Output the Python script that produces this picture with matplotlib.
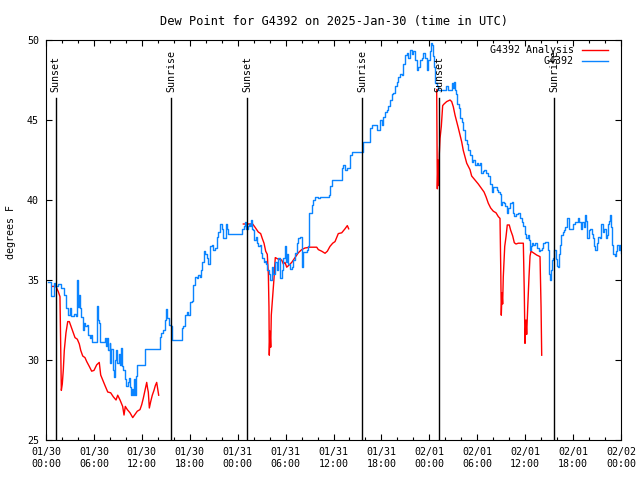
import matplotlib
matplotlib.use('Agg')
import matplotlib.pyplot as plt
import numpy as np
from matplotlib.ticker import MultipleLocator

# hours since 01/30 00:00 UTC
obs_hours = [
    0.25, 0.59, 1.0, 1.16, 1.5, 1.92, 2.25, 2.54, 2.75, 2.97, 3.17, 3.51, 3.72, 3.88, 4.0, 4.13,
    4.26, 4.42, 4.6, 4.76, 4.92, 5.1, 5.26, 5.47, 5.63, 5.8, 6.3, 6.42, 6.51, 6.64, 6.76, 7.14,
    7.35, 7.48, 7.64, 7.76, 7.98, 8.05, 8.18, 8.39, 8.51, 8.68, 8.8, 8.93, 9.1, 9.23, 9.35, 9.52,
    9.68, 9.93, 10.06, 10.27, 10.39, 10.56, 10.68, 10.81, 10.9, 11.02, 11.18, 11.31, 11.43, 12.36,
    12.43, 14.11, 14.24, 14.44, 14.65, 14.86, 15.06, 15.19, 15.36, 15.65, 15.74, 16.78, 16.99,
    17.19, 17.41, 17.62, 17.82, 18.03, 18.24, 18.44, 18.66, 18.87, 19.07, 19.28, 19.41, 19.57,
    19.75, 19.91, 20.12, 20.25, 20.54, 20.75, 20.95, 21.16, 21.38, 21.58, 21.79, 22.0, 22.2,
    22.33, 22.5, 22.66, 22.83, 24.29, 24.58, 24.83, 24.92, 25.04, 25.26, 25.42, 25.55, 25.67,
    25.83, 25.96, 26.08, 26.26, 26.42, 26.58, 26.8, 26.92, 27.09, 27.26, 27.42, 27.55, 27.71,
    27.92, 28.09, 28.26, 28.46, 28.68, 28.89, 29.09, 29.3, 29.51, 29.72, 29.93, 30.06, 30.22,
    30.34, 30.55, 30.77, 30.97, 31.18, 31.39, 31.59, 31.81, 32.02, 32.22, 32.64, 32.85, 32.97,
    33.06, 33.27, 33.47, 33.68, 33.9, 34.1, 34.31, 35.47, 35.56, 35.78, 36.9, 37.03, 37.23,
    37.44, 37.73, 38.07, 38.28, 39.53, 39.66, 40.36, 40.57, 40.78, 41.2, 41.41, 41.61, 41.82,
    42.03, 42.24, 42.45, 42.66, 42.86, 43.08, 43.29, 43.49, 43.7, 43.91, 44.12, 44.33, 44.54,
    44.74, 44.95, 45.17, 45.37, 45.58, 45.79, 45.99, 46.21, 46.42, 46.62, 46.83, 47.04, 47.25,
    47.46, 47.67, 47.87, 48.08, 48.17, 48.3, 48.5, 48.62, 48.75, 48.92, 49.12, 49.34, 49.75,
    50.09, 50.34, 50.59, 50.8, 51.0, 51.1, 51.25, 51.34, 51.5, 51.68, 51.84, 52.05, 52.25,
    52.47, 52.68, 52.88, 53.09, 53.3, 53.5, 53.72, 53.93, 54.13, 54.34, 54.47, 54.68, 54.85,
    55.1, 55.38, 55.6, 55.81, 56.01, 56.22, 56.44, 56.64, 56.85, 56.94, 57.14, 57.35, 57.51,
    57.69, 57.89, 58.1, 58.31, 58.44, 58.64, 58.85, 59.14, 59.35, 59.57, 59.77, 59.98, 60.1,
    60.32, 60.48, 60.61, 60.73, 60.86, 61.02, 61.23, 61.44, 61.69, 61.86, 62.07, 62.27, 62.49,
    62.7, 62.82, 62.95, 63.02, 63.11, 63.24, 63.36, 63.52, 63.65, 63.81, 63.95, 64.07, 64.2,
    64.36, 64.45, 64.7, 64.86, 64.99, 65.2, 65.32, 65.49, 65.83, 66.03, 66.24, 66.45, 66.58,
    66.74, 66.95, 67.16, 67.33, 67.5, 67.62, 67.79, 67.96, 68.12, 68.33, 68.54, 68.66, 68.79,
    68.96, 69.16, 69.37, 69.5, 69.71, 69.87, 70.09, 70.25, 70.41, 70.54, 70.62, 70.75, 70.87,
    71.04, 71.21, 71.38, 71.54, 71.71, 71.87, 72.0,
]
obs_dewpt = [
    34.9, 34.0, 34.8, 34.6, 34.75, 34.5, 34.06, 33.25, 32.8, 33.25, 32.75, 32.9, 32.75, 35.0, 33.3, 34.06,
    33.25, 32.7, 31.9, 32.3, 32.1, 32.2, 31.56, 31.4, 31.56, 31.15, 31.15, 33.4, 32.5, 32.3, 31.15, 31.15,
    31.4, 30.9, 31.4, 30.6, 31.06, 29.8, 30.7, 29.4, 28.96, 30.0, 30.6, 29.8, 30.4, 29.7, 30.75, 29.6,
    29.4, 28.8, 28.4, 28.6, 28.9, 28.3, 27.8, 28.2, 27.8, 28.8, 27.8, 29.0, 29.67, 29.67,
    30.7, 30.7, 31.44, 31.7, 31.9, 32.5, 33.2, 32.6, 32.2, 32.1, 31.25, 31.25, 32.0,
    32.1, 32.8, 33.0, 32.8, 33.65, 33.7, 34.7, 35.2, 35.1, 35.3, 35.2, 35.6, 36.1,
    36.8, 36.6, 36.4, 36.0, 37.1, 37.2, 36.9, 37.0, 37.7, 38.0, 38.5, 38.2, 37.6,
    37.6, 38.5, 38.2, 37.9, 37.9, 38.2, 38.4, 38.65, 38.2, 38.4, 38.5, 38.4, 38.75,
    38.2, 38.1, 37.5, 37.7, 37.3, 37.1, 37.2, 36.7, 36.4, 36.1, 36.2, 36.0, 35.6,
    35.4, 35.0, 35.8, 35.4, 36.1, 35.6, 36.4, 35.1, 35.6, 36.4, 37.1, 36.1, 36.6,
    36.0, 35.7, 35.8, 36.25, 36.7, 37.3, 37.6, 37.7, 35.8, 36.75, 36.9, 37.1, 39.2,
    39.2, 39.7, 40.0, 40.2, 40.2, 40.1, 40.2, 40.3, 40.9, 41.25, 41.25, 42.0, 42.2,
    41.9, 42.0, 42.8, 43.0, 43.0, 43.65, 43.65, 44.5, 44.7, 44.7, 44.4, 44.4, 45.0,
    44.7, 45.2, 45.5, 45.6, 45.9, 46.25, 46.6, 46.7, 47.1, 47.4, 47.7, 47.9, 47.8,
    48.5, 49.06, 49.2, 48.9, 49.4, 49.1, 49.3, 48.75, 48.1, 48.3, 48.75, 48.9, 49.2,
    48.9, 48.1, 48.75, 49.3, 49.8, 49.7, 49.0, 48.3, 47.3, 47.1, 46.9, 46.9, 46.9,
    47.1, 46.9, 46.9, 47.3, 47.0, 47.35, 46.9, 46.6, 46.0, 45.75, 45.1, 44.9, 44.4,
    43.75, 43.5, 43.1, 42.8, 42.4, 42.5, 42.2, 42.3, 42.2, 42.3, 41.7, 41.8, 41.9,
    41.7, 41.5, 41.0, 40.5, 40.8, 40.8, 40.6, 40.5, 40.4, 39.7, 39.9, 39.8, 39.6,
    39.2, 39.5, 39.8, 39.9, 39.2, 39.0, 39.1, 39.2, 38.85, 38.6, 38.4, 37.9, 37.6,
    37.8, 37.5, 36.9, 37.1, 37.3, 37.2, 37.3, 37.0, 36.8, 36.9, 37.0, 37.3, 37.4,
    37.4, 36.9, 36.0, 35.4, 35.0, 35.6, 36.25, 36.4, 36.9, 36.3, 35.9, 35.8, 36.6,
    37.2, 37.8, 38.0, 38.1, 38.3, 38.85, 38.9, 38.2, 38.2, 38.5, 38.6, 38.65, 38.9,
    38.65, 38.2, 38.65, 38.3, 39.06, 38.7, 37.6, 38.1, 38.2, 37.9, 37.6, 37.1, 36.9,
    37.3, 37.7, 37.6, 38.5, 38.0, 38.2, 37.6, 37.8, 38.5, 38.7, 39.06, 38.3, 37.2,
    36.6, 36.5, 36.8, 37.2, 36.9, 37.2, 36.7,
]

nan = np.nan
ana_hours = [
    0.71, 1.25, 1.54, 1.75, 1.84, 1.92, 2.04, 2.17, 2.29, 2.5, 2.72, 2.92, 3.13, 3.34, 3.63, 3.92,
    4.17, 4.35, 4.6, 4.88, 5.1, 5.42, 5.72, 6.01, 6.35, 6.67, 6.85, 7.1, 7.39, 7.73, 8.1, 8.43,
    8.77, 8.98, 9.27, 9.6, 9.77, 9.93, 10.18, 10.52, 10.86, 11.14, 11.43, 11.77, 11.98, 12.18,
    12.4, 12.61, 12.73, 12.81, 12.94, 13.11, 13.31, 13.52, 13.69, 13.86, 13.99, 14.11,
    20.0,
    24.71, 25.33, 25.88, 26.17, 26.58, 26.88, 27.08, 27.3, 27.51, 27.71, 27.84, 27.92, 27.96,
    28.05, 28.14, 28.21, 28.39, 28.55, 28.71, 29.09, 29.51, 29.72, 29.93, 30.14, 30.47, 30.77,
    31.18, 31.59, 32.02, 32.43, 33.06, 33.9, 34.1, 34.52, 34.94, 35.23, 35.56, 35.9, 36.19,
    36.6, 37.03, 37.44, 37.73, 37.9,
    43.0,
    48.92, 48.96, 49.0, 49.09, 49.12, 49.17, 49.25, 49.34, 49.5, 49.67, 49.84, 50.17, 50.59,
    50.8, 51.0, 51.22, 51.43, 51.63, 51.84, 52.05, 52.25, 52.47, 52.68, 53.09, 53.3, 53.72,
    54.13, 54.56, 54.85, 55.1, 55.38, 55.68, 56.01, 56.35, 56.64, 56.85, 56.94, 57.01, 57.1,
    57.18, 57.26, 57.44, 57.6, 57.76, 58.01, 58.19, 58.44, 58.64, 58.85, 59.14, 59.35, 59.77,
    59.89, 59.98, 60.1, 60.19, 60.32, 60.48, 60.61, 60.73, 61.02, 61.44, 61.86, 61.99, 62.07,
]
ana_dewpt = [
    34.6, 34.6, 34.27, 33.96, 31.0, 28.1, 28.5, 29.4, 30.6, 31.7, 32.4, 32.4, 32.1, 31.8, 31.4, 31.3,
    31.0, 30.6, 30.25, 30.15, 29.9, 29.6, 29.3, 29.35, 29.7, 29.85, 29.06, 28.75, 28.4, 28.0, 27.95, 27.7,
    27.5, 27.8, 27.5, 27.1, 26.56, 27.1, 26.9, 26.7, 26.4, 26.6, 26.8, 26.9, 27.2, 27.6,
    28.1, 28.6, 28.2, 28.0, 27.0, 27.4, 27.8, 28.1, 28.4, 28.6, 28.2, 27.8,
    nan,
    38.5, 38.5, 38.5, 38.3, 38.0, 37.9, 37.6, 37.3, 36.8, 36.6, 35.4, 33.3, 30.3,
    31.8, 30.8, 32.8, 34.06, 35.1, 36.4, 36.3, 36.25, 36.0, 36.1, 35.8, 35.95, 36.1,
    36.4, 36.7, 36.9, 37.0, 37.05, 37.05, 36.9, 36.8, 36.67, 36.8, 37.1, 37.3, 37.4,
    37.9, 37.95, 38.2, 38.4, 38.2,
    nan,
    46.9, 44.0, 40.7, 42.5, 42.0, 40.9, 42.9, 43.86, 44.6, 45.9, 46.0, 46.15, 46.25,
    46.15, 45.83, 45.3, 44.9, 44.5, 44.06, 43.64, 43.1, 42.7, 42.3, 41.9, 41.5, 41.25,
    41.0, 40.7, 40.5, 40.2, 39.8, 39.5, 39.3, 39.2, 38.96, 38.85, 35.8, 32.8, 34.2,
    33.5, 35.2, 37.1, 37.7, 38.44, 38.44, 38.1, 37.75, 37.33, 37.25, 37.3, 37.3, 37.3,
    34.2, 31.04, 32.5, 31.6, 33.3, 35.2, 36.5, 36.8, 36.7, 36.56, 36.46, 33.3, 30.3,
]

sun_hours = [1.2, 15.68, 25.22, 39.62, 49.25, 63.65]
sun_names = ['Sunset', 'Sunrise', 'Sunset', 'Sunrise', 'Sunset', 'Sunrise']

tick_hours = list(range(0, 73, 6))
tick_labels = ['01/30\n00:00', '01/30\n06:00', '01/30\n12:00', '01/30\n18:00',
               '01/31\n00:00', '01/31\n06:00', '01/31\n12:00', '01/31\n18:00',
               '02/01\n00:00', '02/01\n06:00', '02/01\n12:00', '02/01\n18:00',
               '02/02\n00:00']

plt.rcParams['font.family'] = 'DejaVu Sans Mono'
plt.rcParams['font.size'] = 7.2

fig = plt.figure(figsize=(6.4, 4.8), dpi=100)
ax = fig.add_axes([46 / 640, 40 / 480, 575 / 640, 400 / 480])

ax.plot(ana_hours, ana_dewpt, color='#ff0000', lw=1, label='G4392 Analysis')
ax.plot(obs_hours, obs_dewpt, color='#0a84ff', lw=1, drawstyle='steps-post', label='G4392')

# sunrise / sunset markers
for h, name in zip(sun_hours, sun_names):
    ax.plot([h, h], [25, 46.4], color='black', lw=1)
    ax.text(h, 46.75, name, rotation=90, ha='center', va='bottom')

ax.set_xlim(0, 72)
ax.set_ylim(25, 50)
ax.set_xticks(tick_hours)
ax.set_xticklabels(tick_labels)
ax.xaxis.set_minor_locator(MultipleLocator(2))
ax.set_yticks([25, 30, 35, 40, 45, 50])
ax.tick_params(which='both', direction='in', top=True, right=True, width=0.8)
ax.tick_params(which='major', length=4.3, pad=5)
ax.tick_params(which='minor', length=2.2)
for s in ax.spines.values():
    s.set_linewidth(0.8)

ax.set_title('Dew Point for G4392 on 2025-Jan-30 (time in UTC)', pad=11)
ax.set_ylabel('degrees F')
ax.yaxis.set_label_coords(-0.052, 0.52)

ax.legend(loc='upper right', bbox_to_anchor=(1 - 6 / 575, 1 + 2 / 400), frameon=False,
          markerfirst=False, handlelength=2.6, labelspacing=0.1, handletextpad=0.8,
          borderaxespad=0.3)

fig.savefig('out.png', dpi=100)
